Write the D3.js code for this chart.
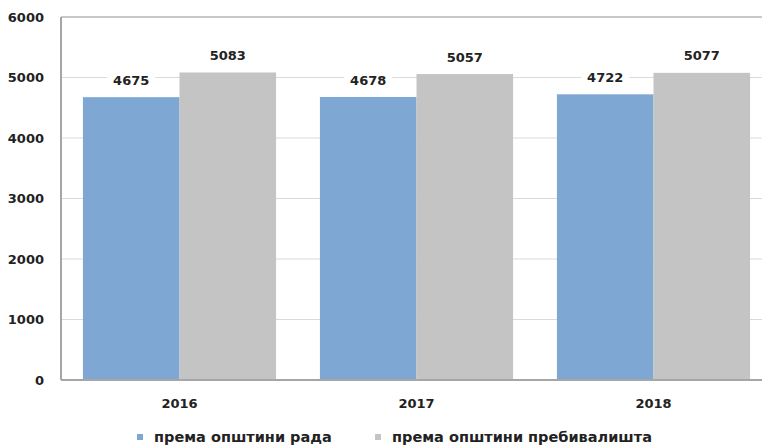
<!DOCTYPE html>
<html>
<head>
<meta charset="utf-8">
<script src="https://cdn.jsdelivr.net/npm/d3@7"></script>
<style>
  body { margin: 0; background: #fff; }
  text { font-family: "DejaVu Sans", sans-serif; font-weight: bold; fill: #222; }
</style>
</head>
<body>
<div id="chart"></div>
<script>
const years = ["2016", "2017", "2018"];
const seriesNames = ["према општини рада", "према општини пребивалишта"];
const byWork = [4675, 4678, 4722];
const byResidence = [5083, 5057, 5077];
const yTicks = [0, 1000, 2000, 3000, 4000, 5000, 6000];
const colors = ["#7ea7d4", "#c4c4c4"];

const W = 762, H = 447;
const margin = {top: 17, right: -10, bottom: 67, left: 61};
const width = W - margin.left - margin.right,
      height = H - margin.top - margin.bottom;

const svg = d3.select("#chart").append("svg")
    .attr("width", W).attr("height", H);
const g = svg.append("g")
    .attr("transform", "translate(" + margin.left + "," + margin.top + ")");

const x = d3.scaleBand().domain(years).range([0, width]).paddingInner(0.185).paddingOuter(0.0925);
const x1 = d3.scaleBand().domain([0, 1]).range([0, x.bandwidth()]);
const y = d3.scaleLinear().domain([0, 6000]).range([height, 0]);

// gridlines
g.selectAll(".grid").data(yTicks.filter(d => d > 0 && d < 6000)).enter()
  .append("line")
    .attr("x1", 0).attr("x2", width)
    .attr("y1", d => y(d)).attr("y2", d => y(d))
    .attr("stroke", "#dadada").attr("stroke-width", 1);

// top border
g.append("line").attr("x1", 0).attr("x2", width).attr("y1", 0).attr("y2", 0)
  .attr("stroke", "#c8c8c8").attr("stroke-width", 2);

const rows = years.map((yr, i) => ({year: yr, vals: [byWork[i], byResidence[i]]}));

const groups = g.selectAll(".grp").data(rows).enter().append("g")
  .attr("transform", d => "translate(" + x(d.year) + ",0)");

groups.selectAll("rect").data(d => d.vals).enter().append("rect")
  .attr("x", (d, i) => x1(i))
  .attr("y", d => y(d))
  .attr("width", x1.bandwidth())
  .attr("height", d => height - y(d))
  .attr("fill", (d, i) => colors[i]);

// value labels with white background
const lab = groups.selectAll(".lab").data(d => d.vals).enter().append("g")
  .attr("transform", (d, i) => "translate(" + (x1(i) + x1.bandwidth() / 2) + "," + (y(d) - 17) + ")");
lab.append("rect").attr("x", -24).attr("y", -9).attr("width", 48).attr("height", 18).attr("fill", "#fff");
lab.append("text").attr("text-anchor", "middle").attr("dy", "0.35em")
  .style("font-size", "13px").text(d => d);

// axes lines
g.append("line").attr("x1", 0).attr("x2", width).attr("y1", height).attr("y2", height)
  .attr("stroke", "#a6a6a6").attr("stroke-width", 2);
g.append("line").attr("x1", 0).attr("x2", 0).attr("y1", 0).attr("y2", height)
  .attr("stroke", "#a6a6a6").attr("stroke-width", 2);

// y labels
g.selectAll(".ylab").data(yTicks).enter().append("text")
  .attr("x", -17).attr("y", d => y(d)).attr("dy", "0.35em")
  .attr("text-anchor", "end").style("font-size", "13px").text(d => d);

// x labels
g.selectAll(".xlab").data(years).enter().append("text")
  .attr("x", d => x(d) + x.bandwidth() / 2).attr("y", height + 23)
  .attr("dy", "0.35em").attr("text-anchor", "middle").style("font-size", "13px").text(d => d);

// legend
const legX = [137, 375];
const leg = svg.selectAll(".leg").data(seriesNames).enter().append("g")
  .attr("transform", (d, i) => "translate(" + legX[i] + ",437)");
leg.append("rect").attr("x", 0).attr("y", -3).attr("width", 6).attr("height", 6)
  .attr("fill", (d, i) => colors[i]);
leg.append("text").attr("x", 17).attr("dy", "0.35em").style("font-size", "14.5px").text(d => d);
</script>
</body>
</html>
